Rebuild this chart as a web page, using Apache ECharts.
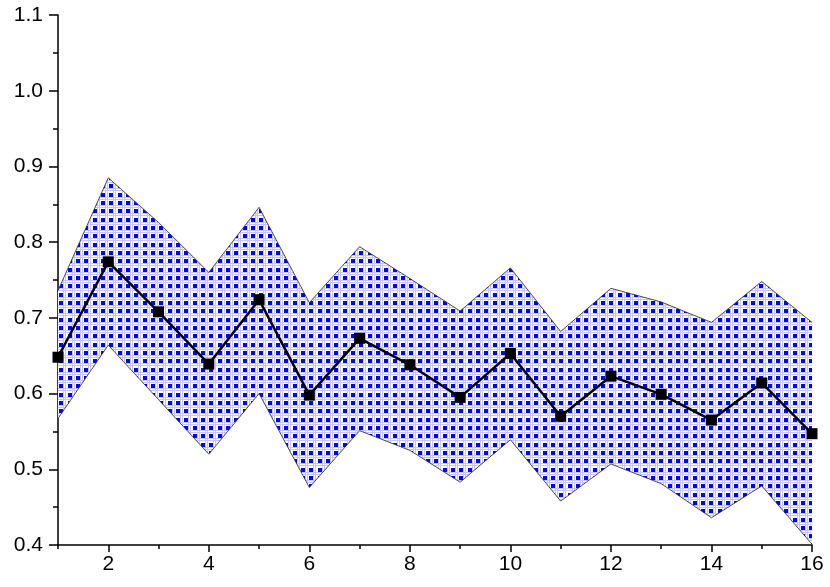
<!DOCTYPE html>
<html>
<head>
<meta charset="utf-8">
<script src="https://cdn.jsdelivr.net/npm/echarts@6/dist/echarts.min.js"></script>
<style>
  html, body { margin: 0; padding: 0; background: #fff; }
  #chart { width: 830px; height: 587px; }
</style>
</head>
<body>
<div id="chart"></div>
<script>
// data
var xValues = ['1', '2', '3', '4', '5', '6', '7', '8', '9', '10', '11', '12', '13', '14', '15', '16']
var meanValues = [0.648, 0.774, 0.708, 0.639, 0.724, 0.598, 0.673, 0.638, 0.595, 0.653, 0.570, 0.623, 0.599, 0.565, 0.614, 0.547]
var upperValues = [0.736, 0.885, 0.826, 0.760, 0.846, 0.720, 0.794, 0.752, 0.709, 0.766, 0.682, 0.739, 0.721, 0.694, 0.748, 0.694]
var lowerValues = [0.567, 0.664, 0.592, 0.520, 0.600, 0.476, 0.551, 0.525, 0.483, 0.539, 0.458, 0.507, 0.481, 0.436, 0.478, 0.401]

// blue square + lavender hash fill, like the original hatch
function makePattern() {
  var c = document.createElement('canvas')
  c.width = 25
  c.height = 25
  var g = c.getContext('2d')
  g.fillStyle = '#ffffff'
  g.fillRect(0, 0, 25, 25)
  var offs = [0, 8, 17]
  g.fillStyle = '#c4c4ff'
  for (var i = 0; i < 3; i++) {
    g.fillRect(offs[i] + 5, 0, 1, 25)
    g.fillRect(offs[i] + 7, 0, 1, 25)
    g.fillRect(0, offs[i] + 5, 25, 1)
    g.fillRect(0, offs[i] + 7, 25, 1)
  }
  g.fillStyle = '#0000ff'
  for (var a = 0; a < 3; a++) {
    for (var b = 0; b < 3; b++) {
      g.fillRect(offs[a] + 1, offs[b] + 1, 4, 4)
    }
  }
  return c
}

var bandDiff = upperValues.map(function (v, i) { return +(v - lowerValues[i]).toFixed(4) })
var isEven = function (idx) { return idx % 2 === 1 }

var chart = echarts.init(document.getElementById('chart'))
var labelFont = { color: '#000', fontSize: 21, fontFamily: 'Liberation Sans, Arial, sans-serif' }
var blackLine = { color: '#000', width: 1.5 }

chart.setOption({
  animation: false,
  backgroundColor: '#fff',
  grid: { left: 58, right: 18, top: 15, bottom: 42 },
  xAxis: [{
    type: 'category',
    data: xValues,
    boundaryGap: false,
    axisLine: { show: true, lineStyle: blackLine },
    axisTick: { show: true, length: 7, interval: isEven, lineStyle: blackLine },
    axisLabel: Object.assign({ margin: 9, interval: isEven }, labelFont),
    splitLine: { show: false }
  }, {
    type: 'category',
    data: xValues,
    boundaryGap: false,
    position: 'bottom',
    axisLine: { show: false },
    axisTick: { show: true, length: 4, interval: 0, lineStyle: blackLine },
    axisLabel: { show: false },
    splitLine: { show: false }
  }],
  yAxis: {
    type: 'value',
    min: 0.4,
    max: 1.1,
    interval: 0.1,
    axisLine: { show: true, lineStyle: blackLine },
    axisTick: { show: true, length: 9, lineStyle: blackLine },
    minorTick: { show: true, splitNumber: 2, length: 5, lineStyle: blackLine },
    axisLabel: Object.assign({
      margin: 15,
      formatter: function (v) { return v.toFixed(1) }
    }, labelFont),
    splitLine: { show: false }
  },
  series: [{
    name: 'lower',
    type: 'line',
    stack: 'band',
    data: lowerValues,
    symbol: 'none',
    lineStyle: { color: '#222', width: 0.8 },
    z: 2
  }, {
    name: 'upper',
    type: 'line',
    stack: 'band',
    data: bandDiff,
    symbol: 'none',
    lineStyle: { color: '#222', width: 0.8 },
    areaStyle: { color: { image: makePattern(), repeat: 'repeat' }, opacity: 1 },
    z: 1
  }, {
    name: 'mean',
    type: 'line',
    data: meanValues,
    symbol: 'rect',
    symbolSize: 11,
    lineStyle: { color: '#000', width: 2.5 },
    itemStyle: { color: '#000' },
    z: 5
  }]
})
</script>
</body>
</html>
